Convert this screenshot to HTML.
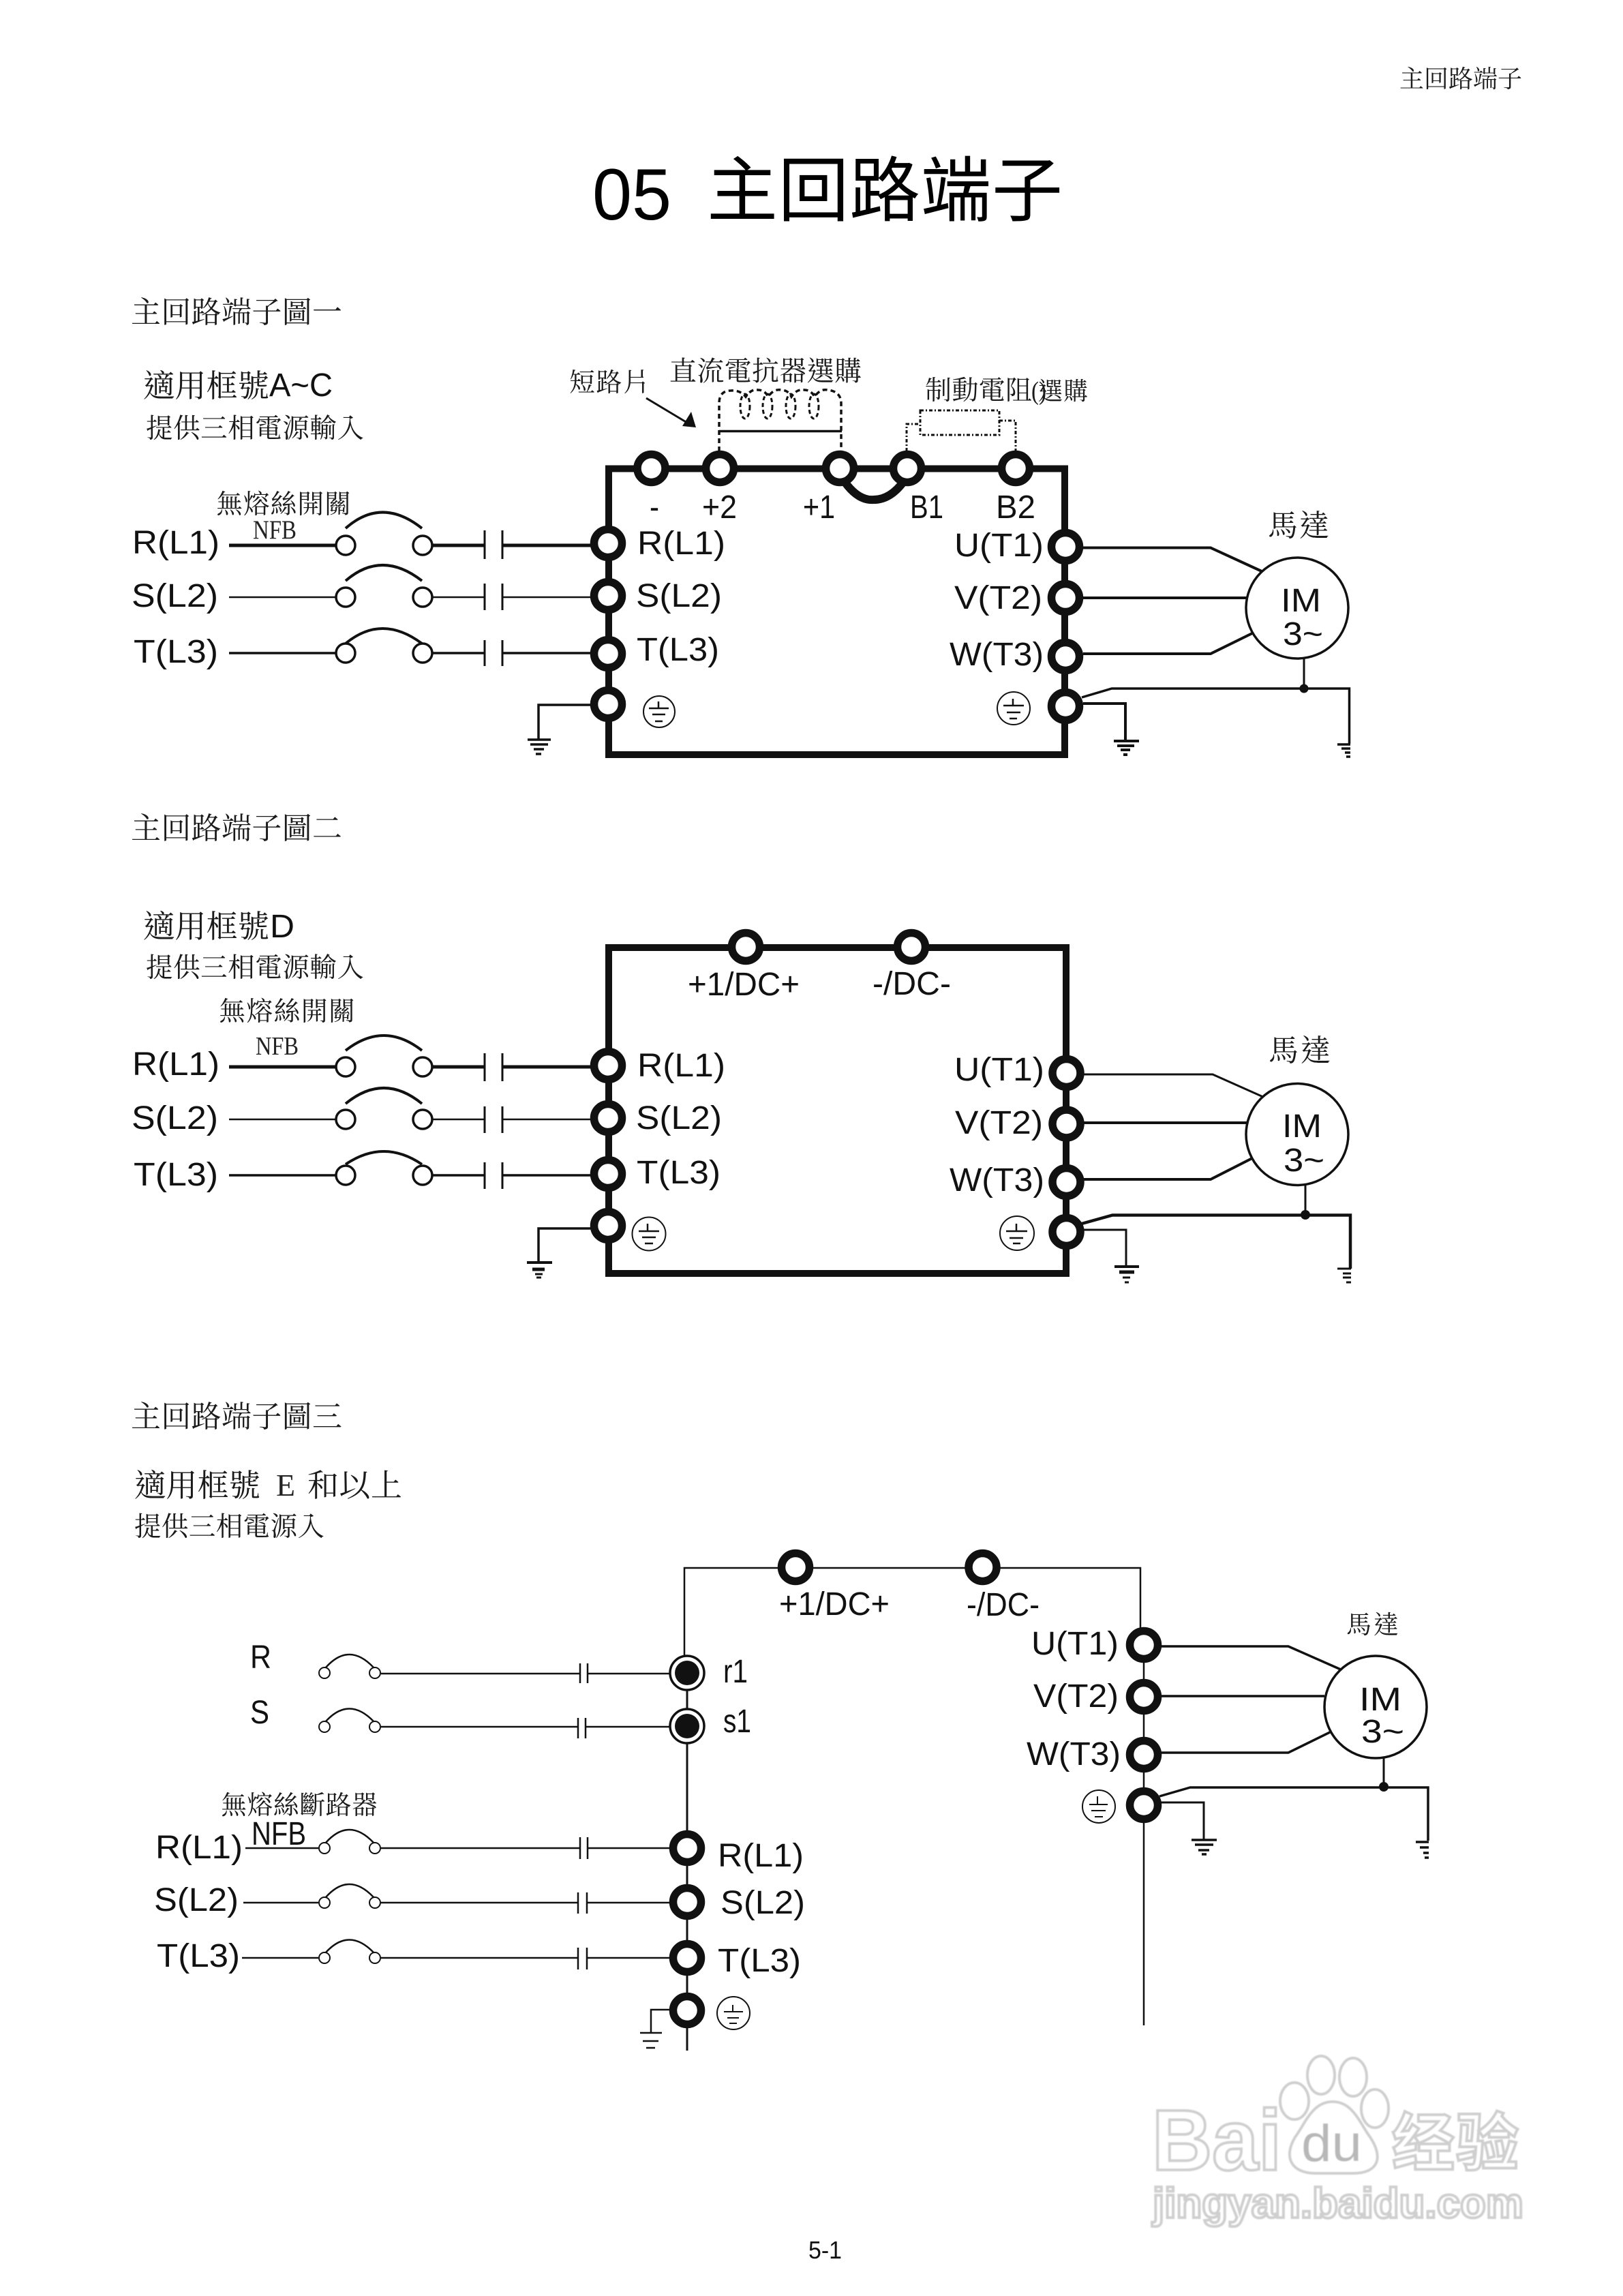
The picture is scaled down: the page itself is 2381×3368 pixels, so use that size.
<!DOCTYPE html>
<html lang="zh-TW">
<head>
<meta charset="utf-8">
<title>05 主回路端子</title>
<style>
html,body{margin:0;padding:0;background:#fff;width:2381px;height:3368px;overflow:hidden}
svg{display:block}
.c{font-family:"Liberation Serif","Noto Serif CJK SC","Noto Serif CJK TC",serif;fill:#1a1a1a}
.a{font-family:"Liberation Sans",Arial,sans-serif;fill:#111;font-size:48px}
.l{stroke:#111;fill:none}
.t{fill:#fff;stroke:#111;stroke-width:11.5}
.o{fill:#fff;stroke:#111;stroke-width:3.5}
.e{fill:#fff;stroke:#111;stroke-width:2}
.d{fill:#111;stroke:none}
.f{fill:none;stroke:#111;stroke-width:10}
.wm{fill:#fff;stroke:#cfcfcf;stroke-width:4}
</style>
</head>
<body>
<svg width="2381" height="3368" viewBox="0 0 2381 3368" xmlns="http://www.w3.org/2000/svg">
<defs><filter id="b"><feGaussianBlur stdDeviation="0.9"/></filter></defs>
<rect width="2381" height="3368" fill="#fff"/>

<!-- page header -->
<text class="c" x="2053" y="128" font-size="36" textLength="180">主回路端子</text>
<text x="869" y="322" font-family="Liberation Sans" font-size="107" textLength="116" lengthAdjust="spacingAndGlyphs" fill="#000">05</text>
<text x="1037" y="316" font-family="Liberation Sans,Noto Sans CJK TC,sans-serif" font-size="104" textLength="522" fill="#000">主回路端子</text>
<text class="c" x="192" y="473" font-size="44" textLength="310">主回路端子圖一</text>
<text class="c" x="192" y="1230" font-size="44" textLength="310">主回路端子圖二</text>
<text class="c" x="192" y="2093" font-size="44" textLength="310">主回路端子圖三</text>

<!-- ===================== DIAGRAM 1 ===================== -->
<text class="c" x="210" y="582" font-size="46" textLength="185">適用框號</text>
<text class="a" x="395" y="581" font-size="44" textLength="93" lengthAdjust="spacingAndGlyphs">A~C</text>
<text class="c" x="214" y="642" font-size="39.5" textLength="320">提供三相電源輸入</text>
<text class="c" x="835" y="574" font-size="38" textLength="117">短路片</text>
<text class="c" x="982" y="558" font-size="40" textLength="282">直流電抗器選購</text>
<text class="c" x="1357" y="586" font-size="39" textLength="157">制動電阻</text>
<text class="c" x="1513" y="586" font-size="38" textLength="22" lengthAdjust="spacingAndGlyphs">()</text>
<text class="c" x="1523" y="586" font-size="36" textLength="73">選購</text>
<text class="c" x="317" y="753" font-size="39" textLength="198">無熔絲開關</text>
<text x="371" y="790" font-family="Liberation Serif" font-size="39" textLength="64" lengthAdjust="spacingAndGlyphs" fill="#222">NFB</text>

<path class="l" d="M948 584L1008 620" stroke-width="3"/>
<path class="d" d="M1021 627L1001 625L1014 604Z"/>
<path class="l" d="M1055 632.5H1235" stroke-width="3.5"/>
<path class="l" d="M1055 662V590Q1056 573 1072 573Q1086 572 1094 582Q1102 570 1112 572Q1122 572 1127 582Q1135 570 1146 572Q1156 572 1161 582Q1169 570 1180 572Q1190 572 1195 582Q1203 570 1214 572Q1234 574 1234 592V662" stroke-dasharray="7 5" stroke-width="3.5"/>
<g class="l" stroke-dasharray="6 4" stroke-width="3">
<ellipse cx="1093" cy="596" rx="7" ry="18"/><ellipse cx="1126" cy="596" rx="7" ry="18"/><ellipse cx="1160" cy="596" rx="7" ry="18"/><ellipse cx="1194" cy="596" rx="7" ry="18"/>
</g>
<g class="l" stroke-dasharray="5 3 2 3" stroke-width="3">
<rect x="1350" y="602" width="116" height="36"/>
<path d="M1330 662V622H1350M1466 617H1490V662"/>
</g>

<path class="f" d="M893 687.5H1562V1107H893Z"/>
<path class="l" d="M1240 708Q1260 735 1282 733Q1306 733 1326 706" stroke-width="12"/>

<g>
<circle class="t" cx="955.5" cy="687" r="20.5"/><circle class="t" cx="1056" cy="687" r="20.5"/><circle class="t" cx="1232" cy="687" r="20.5"/><circle class="t" cx="1331" cy="687" r="20.5"/><circle class="t" cx="1490" cy="687" r="20.5"/>
<circle class="t" cx="892" cy="797" r="20.5"/><circle class="t" cx="892" cy="874" r="20.5"/><circle class="t" cx="892" cy="959" r="20.5"/><circle class="t" cx="892" cy="1033" r="20.5"/>
<circle class="t" cx="1563" cy="802" r="20.5"/><circle class="t" cx="1563" cy="877" r="20.5"/><circle class="t" cx="1563" cy="963" r="20.5"/><circle class="t" cx="1563" cy="1036" r="20.5"/>
</g>

<text class="a" x="953" y="760" font-size="42" textLength="14" lengthAdjust="spacingAndGlyphs">-</text>
<text class="a" x="1030" y="760" font-size="42" textLength="51" lengthAdjust="spacingAndGlyphs">+2</text>
<text class="a" x="1178" y="760" font-size="42" textLength="47" lengthAdjust="spacingAndGlyphs">+1</text>
<text class="a" x="1335" y="760" font-size="42" textLength="49" lengthAdjust="spacingAndGlyphs">B1</text>
<text class="a" x="1461" y="760" font-size="42" textLength="58" lengthAdjust="spacingAndGlyphs">B2</text>

<text class="a" x="194" y="812" textLength="128" lengthAdjust="spacingAndGlyphs">R(L1)</text>
<text class="a" x="193" y="890" textLength="127" lengthAdjust="spacingAndGlyphs">S(L2)</text>
<text class="a" x="196" y="972" textLength="124" lengthAdjust="spacingAndGlyphs">T(L3)</text>
<text class="a" x="935" y="813" textLength="129" lengthAdjust="spacingAndGlyphs">R(L1)</text>
<text class="a" x="933" y="890" textLength="126" lengthAdjust="spacingAndGlyphs">S(L2)</text>
<text class="a" x="934" y="969" textLength="121" lengthAdjust="spacingAndGlyphs">T(L3)</text>
<text class="a" x="1400" y="816" textLength="131" lengthAdjust="spacingAndGlyphs">U(T1)</text>
<text class="a" x="1400" y="893" textLength="129" lengthAdjust="spacingAndGlyphs">V(T2)</text>
<text class="a" x="1393" y="976" textLength="138" lengthAdjust="spacingAndGlyphs">W(T3)</text>

<!-- switches d1 -->
<path class="l" d="M336 800H494M634 800H711M737 800H867" stroke-width="5"/>
<path class="l" d="M336 876H494M634 876H711M737 876H867" stroke-width="2.5"/>
<path class="l" d="M336 958H494M634 958H711M737 958H867" stroke-width="3.5"/>
<path class="l" d="M711 778V820M737 778V820M711 856V895M737 856V895M711 939V977M737 939V977" stroke-width="3"/>
<path class="l" d="M507 775Q560 728 619 775M507 852Q560 806 619 852M507 944Q560 900 619 944" stroke-width="4"/>
<circle class="o" cx="507" cy="800" r="14"/><circle class="o" cx="620" cy="800" r="14"/>
<circle class="o" cx="507" cy="876" r="14"/><circle class="o" cx="620" cy="876" r="14"/>
<circle class="o" cx="507" cy="958" r="14"/><circle class="o" cx="620" cy="958" r="14"/>

<!-- grounds d1 -->
<path class="l" d="M867 1034H790V1084" stroke-width="3.5"/>
<path class="l" d="M774 1085H808M778 1092H804M783 1099H798M786 1106H794" stroke-width="3.5"/>
<ellipse class="e" cx="967" cy="1044" rx="23" ry="23"/>
<path class="l" d="M966 1029V1039M952 1039H981M957 1048H976M961 1058H972" stroke-width="2.5"/>
<ellipse class="e" cx="1487" cy="1039" rx="24" ry="24"/>
<path class="l" d="M1486 1025V1035M1472 1035H1502M1477 1045H1497M1481 1054H1492" stroke-width="2.5"/>
<path class="l" d="M1589 1032H1651V1087" stroke-width="4"/>
<path class="l" d="M1634 1087H1671M1639 1094H1664M1644 1100H1658M1648 1107H1654" stroke-width="4"/>
<path class="l" d="M1587 1023L1631 1010H1979.5V1091" stroke-width="3.5"/>
<path class="l" d="M1962 1092H1981M1968 1098H1981M1973 1104H1981M1975 1110H1981" stroke-width="3.5"/>

<!-- motor d1 -->
<path class="l" d="M1589 803.5H1776L1851 838M1589 877H1830M1589 959H1776L1837 929" stroke-width="4"/>
<path class="l" d="M1913 966V1010" stroke-width="3"/>
<circle class="d" cx="1913" cy="1010" r="6.5"/>
<ellipse class="o" cx="1903" cy="892" rx="75" ry="74"/>
<text class="a" x="1879" y="897" textLength="59" lengthAdjust="spacingAndGlyphs">IM</text>
<text class="a" x="1882" y="946" textLength="59" lengthAdjust="spacingAndGlyphs">3~</text>
<text class="c" x="1860" y="786" font-size="44" textLength="90">馬達</text>

<!-- ===================== DIAGRAM 2 ===================== -->
<text class="c" x="210" y="1375" font-size="46" textLength="185">適用框號</text>
<text class="a" x="396" y="1375" font-size="44" textLength="36" lengthAdjust="spacingAndGlyphs">D</text>
<text class="c" x="214" y="1433" font-size="39.5" textLength="320">提供三相電源輸入</text>
<text class="c" x="321" y="1497" font-size="39" textLength="200">無熔絲開關</text>
<text x="375" y="1547" font-family="Liberation Serif" font-size="38" textLength="63" lengthAdjust="spacingAndGlyphs" fill="#222">NFB</text>

<path class="f" d="M893 1390H1564V1868H893Z"/>
<circle class="t" cx="1094" cy="1389" r="20.5"/><circle class="t" cx="1337" cy="1389" r="20.5"/>
<circle class="t" cx="892" cy="1563" r="20.5"/><circle class="t" cx="892" cy="1640" r="20.5"/><circle class="t" cx="892" cy="1722" r="20.5"/><circle class="t" cx="892" cy="1798" r="20.5"/>
<circle class="t" cx="1564.5" cy="1574" r="20.5"/><circle class="t" cx="1564.5" cy="1648.5" r="20.5"/><circle class="t" cx="1564.5" cy="1734" r="20.5"/><circle class="t" cx="1564.5" cy="1807" r="20.5"/>

<text class="a" x="1009" y="1460" font-size="41" textLength="164" lengthAdjust="spacingAndGlyphs">+1/DC+</text>
<text class="a" x="1280" y="1459" font-size="41" textLength="115" lengthAdjust="spacingAndGlyphs">-/DC-</text>
<text class="a" x="194" y="1577" textLength="128" lengthAdjust="spacingAndGlyphs">R(L1)</text>
<text class="a" x="193" y="1656" textLength="127" lengthAdjust="spacingAndGlyphs">S(L2)</text>
<text class="a" x="196" y="1739" textLength="124" lengthAdjust="spacingAndGlyphs">T(L3)</text>
<text class="a" x="935" y="1579" textLength="129" lengthAdjust="spacingAndGlyphs">R(L1)</text>
<text class="a" x="933" y="1656" textLength="126" lengthAdjust="spacingAndGlyphs">S(L2)</text>
<text class="a" x="934" y="1736" textLength="123" lengthAdjust="spacingAndGlyphs">T(L3)</text>
<text class="a" x="1400" y="1585" textLength="132" lengthAdjust="spacingAndGlyphs">U(T1)</text>
<text class="a" x="1401" y="1663" textLength="129" lengthAdjust="spacingAndGlyphs">V(T2)</text>
<text class="a" x="1393" y="1747" textLength="139" lengthAdjust="spacingAndGlyphs">W(T3)</text>

<path class="l" d="M336 1565H494M634 1565H711M737 1565H867" stroke-width="5"/>
<path class="l" d="M336 1642H494M634 1642H711M737 1642H867" stroke-width="2.5"/>
<path class="l" d="M336 1724H494M634 1724H711M737 1724H867" stroke-width="3.5"/>
<path class="l" d="M711 1545V1586M737 1545V1586M711 1623V1662M737 1623V1662M711 1705V1744M737 1705V1744" stroke-width="3"/>
<path class="l" d="M507 1541Q563 1497 619 1541M507 1619Q563 1573 619 1619M507 1708Q563 1670 619 1708" stroke-width="4"/>
<circle class="o" cx="507" cy="1565" r="14"/><circle class="o" cx="620" cy="1565" r="14"/>
<circle class="o" cx="507" cy="1642" r="14"/><circle class="o" cx="620" cy="1642" r="14"/>
<circle class="o" cx="507" cy="1724" r="14"/><circle class="o" cx="620" cy="1724" r="14"/>

<path class="l" d="M867 1802H790V1850" stroke-width="3.5"/>
<path class="l" d="M773 1852H810" stroke-width="4"/><path class="l" d="M781 1862H799" stroke-width="5"/><path class="l" d="M785 1869H796M787 1874H794" stroke-width="3"/>
<ellipse class="e" cx="952" cy="1810" rx="24.5" ry="24.5"/>
<path class="l" d="M950 1795V1806M937 1806H967M942 1815H962M946 1824H958" stroke-width="2.5"/>
<ellipse class="e" cx="1492" cy="1809" rx="25" ry="25"/>
<path class="l" d="M1491 1795V1806M1476 1806H1507M1481 1816H1501M1486 1824H1497" stroke-width="2.5"/>
<path class="l" d="M1589 1804H1652V1857" stroke-width="3"/>
<path class="l" d="M1635 1858H1671" stroke-width="4"/><path class="l" d="M1642 1866H1664" stroke-width="5"/><path class="l" d="M1647 1874H1658M1650 1881H1656" stroke-width="3"/>
<path class="l" d="M1587 1795L1632 1782.5H1981V1861" stroke-width="4.5"/>
<path class="l" d="M1962 1861H1982M1970 1868H1982M1970 1874H1982M1975 1881H1982" stroke-width="3"/>

<path class="l" d="M1589 1576H1779L1853 1609" stroke-width="3"/>
<path class="l" d="M1589 1647H1830M1589 1730H1776L1837 1699" stroke-width="4"/>
<path class="l" d="M1915 1738V1782" stroke-width="3"/>
<circle class="d" cx="1915" cy="1782" r="7"/>
<ellipse class="o" cx="1903" cy="1664" rx="75" ry="74.5"/>
<text class="a" x="1881" y="1668" textLength="58" lengthAdjust="spacingAndGlyphs">IM</text>
<text class="a" x="1883" y="1718" textLength="60" lengthAdjust="spacingAndGlyphs">3~</text>
<text class="c" x="1861" y="1556" font-size="44" textLength="91">馬達</text>

<!-- ===================== DIAGRAM 3 ===================== -->
<text class="c" x="197" y="2195" font-size="46" textLength="185">適用框號</text>
<text x="405" y="2194" font-family="Liberation Serif" font-size="46" fill="#222" textLength="28" lengthAdjust="spacingAndGlyphs">E</text>
<text class="c" x="451" y="2195" font-size="46" textLength="139">和以上</text>
<text class="c" x="197" y="2253" font-size="39.5" textLength="279">提供三相電源入</text>
<text class="c" x="324" y="2661" font-size="38" textLength="230">無熔絲斷路器</text>

<path class="l" d="M1004 2431V2300H1673V2389L1678 2413V2971" stroke-width="2.5"/>
<path class="l" d="M1008 2454V3008" stroke-width="3"/>

<circle class="o" cx="1008" cy="2454" r="25"/><circle class="d" cx="1008" cy="2454" r="18"/>
<circle class="o" cx="1008" cy="2532" r="25"/><circle class="d" cx="1008" cy="2532" r="18"/>
<circle class="t" cx="1008" cy="2711" r="20.5"/><circle class="t" cx="1008" cy="2790" r="20.5"/><circle class="t" cx="1008" cy="2872" r="20.5"/><circle class="t" cx="1008" cy="2949" r="20.5"/>
<circle class="t" cx="1167" cy="2299" r="20.5"/><circle class="t" cx="1441.5" cy="2299" r="20.5"/>
<circle class="t" cx="1678" cy="2413" r="20.5"/><circle class="t" cx="1678" cy="2489" r="20.5"/><circle class="t" cx="1678" cy="2574" r="20.5"/><circle class="t" cx="1678" cy="2648" r="20.5"/>

<text class="a" x="367" y="2447" font-size="35" textLength="31" lengthAdjust="spacingAndGlyphs">R</text>
<text class="a" x="367" y="2528" font-size="35" textLength="28" lengthAdjust="spacingAndGlyphs">S</text>
<text class="a" x="1061" y="2468" font-size="34" textLength="36" lengthAdjust="spacingAndGlyphs">r1</text>
<text class="a" x="1061" y="2541" font-size="34" textLength="41" lengthAdjust="spacingAndGlyphs">s1</text>
<text class="a" x="228" y="2726" textLength="128" lengthAdjust="spacingAndGlyphs">R(L1)</text>
<text class="a" x="226" y="2803" textLength="124" lengthAdjust="spacingAndGlyphs">S(L2)</text>
<text class="a" x="230" y="2885" textLength="122" lengthAdjust="spacingAndGlyphs">T(L3)</text>
<text class="a" x="369" y="2706" font-size="35" textLength="80" lengthAdjust="spacingAndGlyphs">NFB</text>
<text class="a" x="1053" y="2738" textLength="126" lengthAdjust="spacingAndGlyphs">R(L1)</text>
<text class="a" x="1057" y="2807" textLength="124" lengthAdjust="spacingAndGlyphs">S(L2)</text>
<text class="a" x="1053" y="2892" textLength="122" lengthAdjust="spacingAndGlyphs">T(L3)</text>
<text class="a" x="1143" y="2369" font-size="44" textLength="162" lengthAdjust="spacingAndGlyphs">+1/DC+</text>
<text class="a" x="1418" y="2370" font-size="44" textLength="107" lengthAdjust="spacingAndGlyphs">-/DC-</text>
<text class="a" x="1513" y="2427" textLength="128" lengthAdjust="spacingAndGlyphs">U(T1)</text>
<text class="a" x="1516" y="2504" textLength="125" lengthAdjust="spacingAndGlyphs">V(T2)</text>
<text class="a" x="1506" y="2589" textLength="138" lengthAdjust="spacingAndGlyphs">W(T3)</text>

<g class="l" stroke-width="2.5">
<path d="M559 2455H851M862 2455H982M851 2440V2469M862 2440V2469"/>
<path d="M559 2533H848M859 2533H982M848 2520V2550M859 2520V2550"/>
<path d="M360 2711H467M559 2711H851M862 2711H982M851 2695V2727M862 2695V2727"/>
<path d="M357 2791H467M559 2791H848M861 2791H982M848 2776V2807M861 2776V2807"/>
<path d="M355 2872H467M559 2872H848M861 2872H982M848 2857V2889M861 2857V2889"/>
<path d="M478 2446Q512 2408 548 2446M478 2525Q512 2488 548 2525M478 2703Q512 2665 548 2703M478 2783Q512 2745 548 2783M478 2864Q512 2827 548 2864"/>
</g>
<g>
<circle class="e" cx="476" cy="2454" r="8"/><circle class="e" cx="550" cy="2454" r="8"/>
<circle class="e" cx="476" cy="2533" r="8"/><circle class="e" cx="550" cy="2533" r="8"/>
<circle class="e" cx="476" cy="2711" r="8"/><circle class="e" cx="550" cy="2711" r="8"/>
<circle class="e" cx="476" cy="2791" r="8"/><circle class="e" cx="550" cy="2791" r="8"/>
<circle class="e" cx="476" cy="2872" r="8"/><circle class="e" cx="550" cy="2872" r="8"/>
</g>

<path class="l" d="M982 2948H955V2982" stroke-width="2.5"/>
<path class="l" d="M939 2982H971M943 2994H966M948 3004H961" stroke-width="2.5"/>
<circle class="e" cx="1076" cy="2953" r="24"/>
<path class="l" d="M1075 2941V2951M1062 2951H1090M1067 2960H1084M1070 2968H1081" stroke-width="2"/>
<ellipse class="e" cx="1612" cy="2650" rx="24" ry="24"/>
<path class="l" d="M1610 2635V2647M1598 2647H1625M1601 2656H1622M1606 2665H1618" stroke-width="2"/>
<path class="l" d="M1703 2644H1766V2699" stroke-width="3"/>
<path class="l" d="M1748 2699H1785M1753 2706H1780M1758 2714H1774M1763 2720H1770" stroke-width="3.5"/>
<path class="l" d="M1701 2635L1746 2622H2095V2700" stroke-width="3.5"/>
<path class="l" d="M2077 2702H2096M2083 2710H2096M2088 2718H2096M2090 2725H2096" stroke-width="3.5"/>

<path class="l" d="M1703 2415H1890L1967 2449M1703 2488H1943M1703 2571H1890L1951 2541" stroke-width="3.5"/>
<path class="l" d="M2030 2579V2622" stroke-width="3"/>
<circle class="d" cx="2030" cy="2621" r="7"/>
<circle class="o" cx="2018" cy="2504" r="75"/>
<text class="a" x="1994" y="2509" textLength="62" lengthAdjust="spacingAndGlyphs">IM</text>
<text class="a" x="1997" y="2556" textLength="63" lengthAdjust="spacingAndGlyphs">3~</text>
<text class="c" x="1975" y="2396" font-size="37" textLength="77">馬達</text>

<!-- page number -->
<text x="1186" y="3313" font-family="Liberation Sans" font-size="36" textLength="49" lengthAdjust="spacingAndGlyphs" fill="#111">5-1</text>

<!-- watermark -->
<g filter="url(#b)">
<ellipse class="wm" cx="1899" cy="3082" rx="21" ry="27"/>
<ellipse class="wm" cx="1938" cy="3044" rx="20" ry="28"/>
<ellipse class="wm" cx="1985" cy="3047" rx="20" ry="28"/>
<ellipse class="wm" cx="2017" cy="3093" rx="20" ry="28"/>
<path class="wm" d="M1955 3083C1985 3083 1995 3115 2010 3135C2030 3165 2022 3188 1985 3188H1930C1895 3188 1882 3165 1900 3135C1915 3115 1925 3083 1955 3083Z"/>
<text class="wm" x="1690" y="3183" font-family="Liberation Sans" font-weight="bold" font-size="126" textLength="190" lengthAdjust="spacingAndGlyphs">Bai</text>
<text x="1909" y="3170" font-family="Liberation Sans" font-size="76" textLength="89" lengthAdjust="spacingAndGlyphs" fill="#b8b8b8">du</text>
<text class="wm" x="2042" y="3176" font-family="Liberation Sans,Noto Sans CJK SC,sans-serif" font-weight="bold" font-size="92" textLength="186">经验</text>
<text class="wm" x="1691" y="3253" font-family="Liberation Sans" font-weight="bold" font-size="62" textLength="544" lengthAdjust="spacingAndGlyphs">jingyan.baidu.com</text>
</g>
</svg>
</body>
</html>
